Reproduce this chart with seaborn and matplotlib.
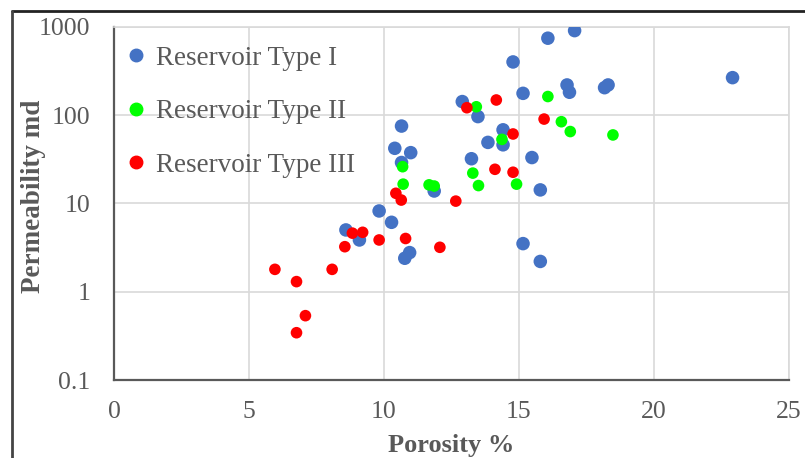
import numpy as np
import pandas as pd
import seaborn as sns
from matplotlib import pyplot as plt
from matplotlib.lines import Line2D

# Reservoir Type I
type1_phi = [22.91, 17.06, 16.07, 14.78, 15.15, 16.78, 16.87, 18.17, 18.30, 12.90,
             13.48, 14.41, 14.41, 13.85, 13.24, 15.48, 15.79, 11.86, 10.65, 10.40,
             10.99, 10.65, 9.82, 10.28, 8.59, 9.09, 10.95, 10.77, 15.15, 15.79]
type1_k = [265, 903, 741, 399, 176, 219, 181, 204, 219, 142,
           96, 68, 46, 49, 32, 33, 14.2, 13.8, 75, 42,
           37.5, 29, 8.2, 6.1, 5.0, 3.85, 2.77, 2.39, 3.5, 2.2]

# Reservoir Type II
type2_phi = [16.07, 13.42, 16.57, 16.90, 18.48, 14.37, 13.29, 13.50, 14.91, 11.67,
             11.86, 10.69, 10.71]
type2_k = [162, 124, 84, 65, 59.5, 53, 22, 15.9, 16.5, 16.2,
           15.7, 26, 16.5]

# Reservoir Type III
type3_phi = [14.16, 13.07, 15.93, 14.78, 14.11, 14.78, 12.66, 10.44, 10.64, 8.83,
             9.21, 9.82, 8.55, 10.80, 12.07, 5.96, 8.08, 6.76, 7.09, 6.76]
type3_k = [148, 121, 90, 61, 24.3, 22.5, 10.6, 13.0, 10.9, 4.6,
           4.7, 3.85, 3.23, 4.0, 3.18, 1.79, 1.79, 1.30, 0.535, 0.343]

labels = ['Reservoir Type I', 'Reservoir Type II', 'Reservoir Type III']
colors = ['#4472C4', '#00FF00', '#FF0000']

df = pd.DataFrame({
    'phi': type1_phi + type2_phi + type3_phi,
    'k': type1_k + type2_k + type3_k,
    'type': [labels[0]] * len(type1_phi) + [labels[1]] * len(type2_phi) + [labels[2]] * len(type3_phi),
})

sns.set_style('white')
plt.rcParams['font.family'] = ['Liberation Serif', 'DejaVu Serif']
grey = '#595959'

fig = plt.figure(figsize=(8.05, 4.58), dpi=100)
ax = fig.add_axes([0.1416, 0.1703, 0.8385, 0.7714])

sizes = [95, 70, 70]
for lab, col, s in zip(labels, colors, sizes):
    sub = df[df['type'] == lab]
    sns.scatterplot(data=sub, x='phi', y='k', color=col, s=s, edgecolor='none',
                    ax=ax, legend=False, zorder=3)

ax.set_yscale('log')
ax.set_xlim(0, 25)
ax.set_ylim(0.1, 1000)
ax.set_xticks([0, 5, 10, 15, 20, 25])
ax.set_yticks([0.1, 1, 10, 100, 1000])
ax.set_yticklabels(['0.1', '1', '10', '100', '1000'])
ax.minorticks_off()
ax.grid(True, color='#D9D9D9', linewidth=1.2, zorder=0)
ax.set_axisbelow(True)
ax.tick_params(axis='both', length=0, labelsize=18.5, labelcolor=grey)
ax.tick_params(axis='x', pad=15)
ax.tick_params(axis='y', pad=17)
for side in ['top', 'right']:
    ax.spines[side].set_color('#D9D9D9')
    ax.spines[side].set_linewidth(1.2)
for side in ['left', 'bottom']:
    ax.spines[side].set_color(grey)
    ax.spines[side].set_linewidth(1.6)

ax.set_xlabel('Porosity %', fontsize=19, fontweight='bold', color=grey, labelpad=8)
ax.set_ylabel('Permeability md', fontsize=19.5, fontweight='bold', color=grey)
ax.yaxis.set_label_coords(-0.10, 0.52)

handles = [Line2D([], [], marker='o', linestyle='none', color=c, markersize=9) for c in colors]
ax.legend(handles, labels, loc='upper left', bbox_to_anchor=(0.0, 1 - 11 / 353), frameon=False,
          fontsize=19.5, labelcolor=grey, handletextpad=0.25, handlelength=1.0,
          labelspacing=1.05, borderaxespad=0.0, borderpad=0.3)

# outer frame of the original picture
fig.add_artist(Line2D([12 / 805, 1], [1 - 11 / 458, 1 - 11 / 458], color='#222222', linewidth=2))
fig.add_artist(Line2D([12 / 805, 12 / 805], [0, 1 - 11 / 458], color='#444444', linewidth=2))

fig.savefig('out.png', dpi=100)
